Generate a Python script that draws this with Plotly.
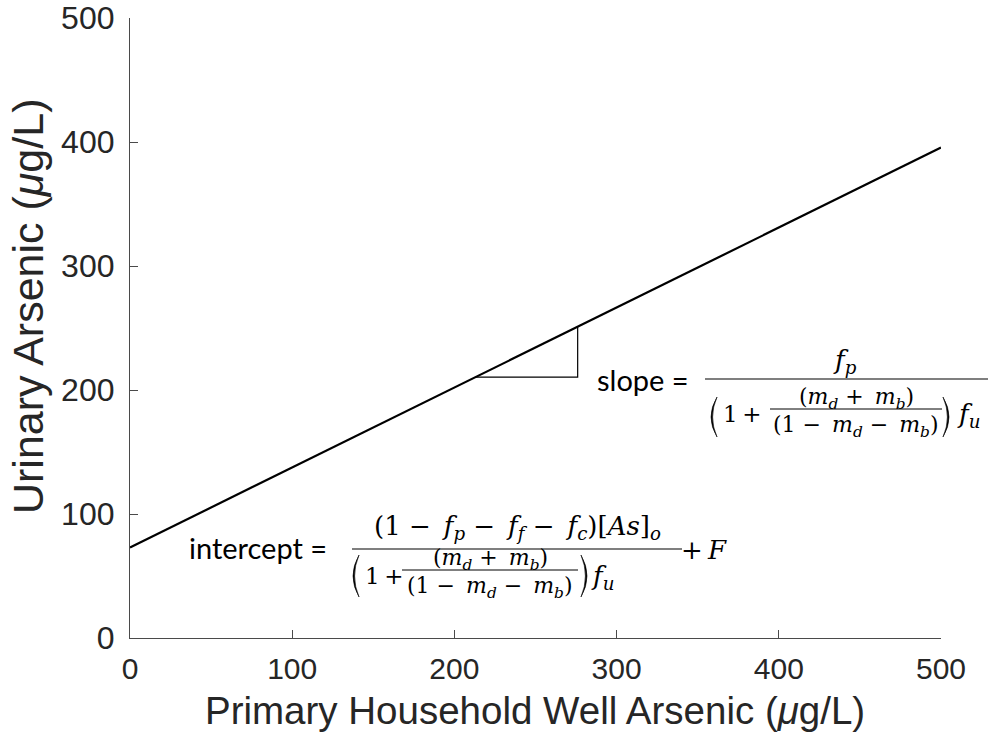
import numpy as np
import plotly.graph_objects as go

# Linear relation between well arsenic and urinary arsenic
well_as = [0, 500]
urinary_as = [73, 395.5]

# x-extent of the slope triangle drawn under the line
tri_x = [213, 276]

x_ticks = [0, 100, 200, 300, 400, 500]
y_ticks = [0, 100, 200, 300, 400, 500]

AXIS_FONT = "Liberation Sans, Arial"
TITLE_FONT = "Liberation Sans, Arial"
TEXT_FONT = "Lato, Carlito, Calibri, sans-serif"
MATH_FONT = "DejaVu Serif, serif"
INK = "#262626"

W, H = 989, 748
L, R, T, B = 130, 941, 18, 638  # plot area edges in pixels


def to_paper(px, py):
    return (px - L) / (R - L), (B - py) / (B - T)


fig = go.Figure()

fig.add_trace(go.Scatter(
    x=well_as, y=urinary_as, mode="lines",
    line=dict(color="black", width=2.2), showlegend=False, hoverinfo="skip",
))

# slope triangle: horizontal leg then vertical leg back up to the line
tri_y = np.interp(tri_x, well_as, urinary_as)
fig.add_trace(go.Scatter(
    x=[tri_x[0], tri_x[1], tri_x[1]],
    y=[tri_y[0], tri_y[0], tri_y[1]],
    mode="lines", line=dict(color="black", width=1.2),
    showlegend=False, hoverinfo="skip",
))


def note(text, px, py, size=26, family=MATH_FONT, xanchor="center", color="black"):
    x, y = to_paper(px, py)
    fig.add_annotation(
        text=text, x=x, y=y, xref="paper", yref="paper",
        xanchor=xanchor, yanchor="middle", showarrow=False,
        font=dict(family=family, size=size, color=color),
    )


def bar(px0, px1, py, width=1.2):
    x0, y = to_paper(px0, py)
    x1, _ = to_paper(px1, py)
    fig.add_shape(type="line", xref="paper", yref="paper",
                  x0=x0, x1=x1, y0=y, y1=y,
                  line=dict(color="black", width=width))


def paren(px, top, bottom, side="left", bulge=6.0, thick=1.6):
    """Tall tapered parenthesis drawn as a filled crescent."""
    s = -1 if side == "left" else 1
    xt, yt = to_paper(px, top)
    xb, yb = to_paper(px, bottom)
    xo, ym = to_paper(px + s * 2 * bulge, (top + bottom) / 2)
    xi, _ = to_paper(px + s * (2 * bulge - 2 * thick), (top + bottom) / 2)
    path = (f"M {xt},{yt} Q {xo},{ym} {xb},{yb} "
            f"Q {xi},{ym} {xt},{yt} Z")
    fig.add_shape(type="path", path=path, xref="paper", yref="paper",
                  fillcolor="black", line=dict(color="black", width=0.6))


def it(s):
    return f"<i>{s}</i>"


def sub(base, s):
    return f"<i>{base}</i><sub><i>{s}</i></sub>"


SP = "\u2002"   # en space
TH = "\u2009"   # thin space
MINUS = f" −{SP}"

inner_num = f"({sub('m', 'd')} +{SP}{sub('m', 'b')})"
inner_den = f"(1{MINUS}{sub('m', 'd')}{MINUS}{sub('m', 'b')})"
one_plus = f"1{TH}+"

# ---- slope expression ----
note("slope =", 595, 379, size=29, family=TEXT_FONT, xanchor="left")
bar(705, 988, 379)
note(sub("f", "p"), 845, 361)
paren(717, 397, 437, "left")
note(one_plus, 721, 414, size=23, xanchor="left")
bar(770, 942, 409, width=1.0)
note(inner_num, 856, 398, size=22)
note(inner_den, 856, 426, size=22)
paren(943, 397, 437, "right")
note(sub("f", "u"), 968, 415)

# ---- intercept expression ----
note("intercept =", 187, 547, size=29, family=TEXT_FONT, xanchor="left")
bar(352, 682, 549)
note(f"(1{MINUS}{sub('f', 'p')}{MINUS}{sub('f', 'f')}{MINUS}{sub('f', 'c')})"
     f"[{it('As')}]<sub><i>o</i></sub>", 517, 527)
paren(359, 555, 597, "left")
note(one_plus, 363, 576, size=23, xanchor="left")
bar(402, 578, 570, width=1.0)
note(inner_num, 490, 559, size=22)
note(inner_den, 490, 587, size=22)
paren(581, 555, 597, "right")
note(sub("f", "u"), 602, 577)
note(f"+{TH}{it('F')}", 704, 550)

# ---- axis titles ----
note("Primary Household Well Arsenic (<i>μ</i>g/L)", 535, 710, size=38.5,
     family=TITLE_FONT, color=INK)
x, y = to_paper(28, 307)
fig.add_annotation(
    text="Urinary Arsenic (<i>μ</i>g/L)", x=x, y=y, xref="paper", yref="paper",
    textangle=-90, showarrow=False, xanchor="center", yanchor="middle",
    font=dict(family=TITLE_FONT, size=43, color=INK),
)

axis_common = dict(
    showgrid=False, zeroline=False, showline=True, automargin=False,
    linecolor="#4a4a4a", linewidth=1.2,
    ticks="inside", ticklen=8, tickcolor="#4a4a4a", tickwidth=1.2,
    fixedrange=True,
)

fig.update_layout(
    width=W, height=H,
    margin=dict(l=L, r=W - R, t=T, b=H - B, autoexpand=False),
    paper_bgcolor="white", plot_bgcolor="white",
    xaxis=dict(range=[0, 500], tickvals=x_ticks, ticklabelstandoff=4,
               tickfont=dict(family=AXIS_FONT, size=30, color=INK), **axis_common),
    yaxis=dict(range=[0, 500], tickvals=y_ticks, ticklabelstandoff=8,
               tickfont=dict(family=AXIS_FONT, size=32, color=INK), **axis_common),
)

fig.write_html("out.html")
